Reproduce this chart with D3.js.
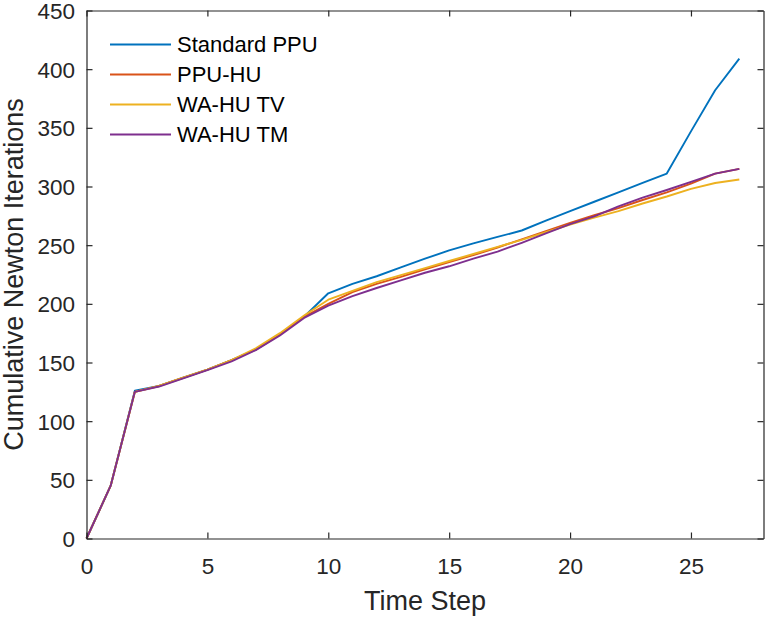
<!DOCTYPE html>
<html>
<head>
<meta charset="utf-8">
<script src="https://cdn.jsdelivr.net/npm/d3@7"></script>
<style>
  html, body { margin: 0; padding: 0; background: #fff; }
  svg { display: block; font-family: "Liberation Sans", Arial, sans-serif; }
</style>
</head>
<body>
<svg id="chart" width="766" height="618"></svg>
<script>
// time steps
const steps = d3.range(0, 28);

// cumulative Newton iterations
const standardPPU = [0, 45, 126, 130, 137, 144, 152, 161, 174, 189, 209, 217, 223.5, 231, 238.5, 245.5, 251.5, 257, 262.5, 271, 279, 287, 295, 303, 311, 347, 382, 409];
const ppuHU       = [0, 45, 125, 130, 137, 144, 152, 161, 174, 189, 200, 210, 217, 223, 229.5, 235.5, 241.5, 248, 255, 262, 269, 275.5, 281.5, 288.5, 295, 302.5, 311, 315];
const waHUTV      = [0, 45, 125, 130, 137, 144, 152, 162, 175, 190, 203.5, 211, 218.5, 224.5, 230.5, 236.5, 242.5, 248.5, 254.5, 261, 267.5, 273.5, 279, 285.5, 291.5, 298, 303, 306];
const waHUTM      = [0, 45, 125, 129.5, 136.5, 143.5, 151, 160.5, 173, 188, 198.5, 206.5, 213.5, 220, 226.5, 232, 238.5, 244.5, 252, 260, 268, 274.5, 283, 290.5, 297, 304, 311, 315];

const seriesNames = ["Standard PPU", "PPU-HU", "WA-HU TV", "WA-HU TM"];
const seriesValues = [standardPPU, ppuHU, waHUTV, waHUTM];
const seriesColors = ["#0072BD", "#D95319", "#EDB120", "#7E2F8E"];

const xTicks = [0, 5, 10, 15, 20, 25];
const yTicks = [0, 50, 100, 150, 200, 250, 300, 350, 400, 450];

const svg = d3.select("#chart");
const margin = { left: 86.5, right: 2.5, top: 10.5, bottom: 79.5 };
const W = 766, H = 618;
const x = d3.scaleLinear().domain([0, 28]).range([margin.left, W - margin.right]);
const y = d3.scaleLinear().domain([0, 450]).range([H - margin.bottom, margin.top]);

const axisColor = "#262626";
const tickLen = 6;

// lines first, axes box over them
const line = d3.line().x((d, i) => x(steps[i])).y(d => y(d));
svg.append("g").selectAll("path")
  .data(seriesValues)
  .join("path")
  .attr("d", d => line(d))
  .attr("fill", "none")
  .attr("stroke", (d, i) => seriesColors[i])
  .attr("stroke-width", 1.9)
  .attr("stroke-linejoin", "round");

// bottom / left axes (ticks pointing inward)
const gx = svg.append("g").attr("transform", `translate(0,${y(0)})`)
  .call(d3.axisBottom(x).tickValues(xTicks).tickSizeInner(-tickLen).tickSizeOuter(0).tickPadding(19.5));
const gy = svg.append("g").attr("transform", `translate(${x(0)},0)`)
  .call(d3.axisLeft(y).tickValues(yTicks).tickSizeInner(-tickLen).tickSizeOuter(0).tickPadding(11.5));
// mirrored top / right
const gxt = svg.append("g").attr("transform", `translate(0,${y(450)})`)
  .call(d3.axisTop(x).tickValues(xTicks).tickSizeInner(-tickLen).tickSizeOuter(0).tickFormat(""));
const gyr = svg.append("g").attr("transform", `translate(${x(28)},0)`)
  .call(d3.axisRight(y).tickValues(yTicks).tickSizeInner(-tickLen).tickSizeOuter(0).tickFormat(""));

[gx, gy, gxt, gyr].forEach(g => {
  g.select(".domain").attr("stroke", axisColor).attr("stroke-width", 1.2);
  g.selectAll(".tick line").attr("stroke", axisColor).attr("stroke-width", 1.2);
  g.selectAll(".tick text").attr("fill", axisColor).style("font-size", "22.5px")
    .style("font-family", "'Liberation Sans', Arial, sans-serif");
});
gy.selectAll(".tick text").attr("dy", "0.36em");
gx.selectAll(".tick text").attr("dy", "0.71em");

// axis labels
svg.append("text")
  .attr("x", (x(0) + x(28)) / 2).attr("y", 610)
  .attr("text-anchor", "middle").attr("fill", axisColor)
  .style("font-size", "27px")
  .text("Time Step");
svg.append("text")
  .attr("transform", `translate(23,${(y(0) + y(450)) / 2}) rotate(-90)`)
  .attr("text-anchor", "middle").attr("fill", axisColor)
  .style("font-size", "27px")
  .text("Cumulative Newton Iterations");

// legend
const legend = svg.append("g").attr("transform", "translate(110,44.5)");
const rows = legend.selectAll("g").data(seriesNames).join("g")
  .attr("transform", (d, i) => `translate(0,${i * 30})`);
rows.append("line")
  .attr("x1", 0).attr("x2", 61)
  .attr("stroke", (d, i) => seriesColors[i])
  .attr("stroke-width", 1.9);
rows.append("text")
  .attr("x", 67).attr("dy", "0.36em")
  .attr("fill", "#000")
  .style("font-size", "22px")
  .text(d => d);
</script>
</body>
</html>
